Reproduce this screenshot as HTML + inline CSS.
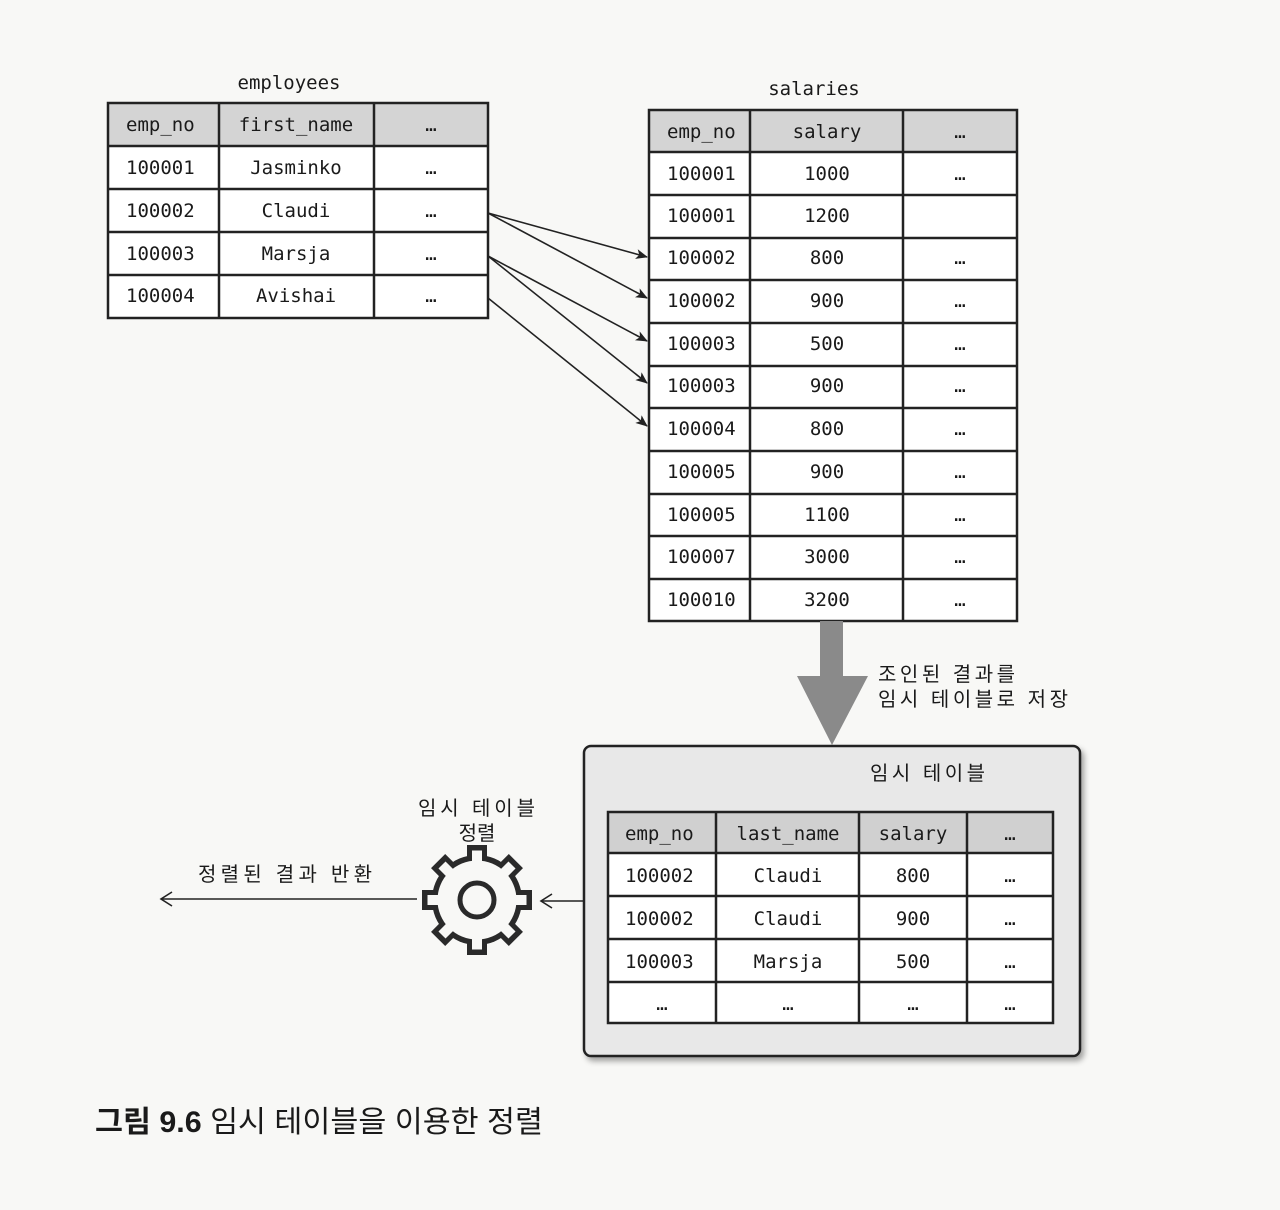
<!DOCTYPE html>
<html><head><meta charset="utf-8"><style>
html,body{margin:0;padding:0;background:#f8f8f6;}
svg{display:block}
.m{font-family:"DejaVu Sans Mono","Liberation Mono","Noto Sans CJK KR",monospace;font-size:19px;fill:#1a1a1a;font-weight:500}
.k{font-family:"Liberation Sans","Noto Sans CJK KR",sans-serif;font-size:20px;fill:#1a1a1a}
</style></head><body>
<svg width="1280" height="1210" viewBox="0 0 1280 1210" xmlns="http://www.w3.org/2000/svg">
<defs>
<marker id="ah" markerWidth="12" markerHeight="10" refX="11" refY="5" orient="auto" markerUnits="userSpaceOnUse">
<path d="M0,0 L12,5 L0,10 L3,5 Z" fill="#222"/></marker>
<filter id="sh" x="-5%" y="-5%" width="110%" height="115%"><feDropShadow dx="3" dy="4" stdDeviation="3" flood-color="#000" flood-opacity="0.35"/></filter>
</defs>

<text class="m" x="289" y="89" text-anchor="middle">employees</text>
<rect x="108" y="103" width="380" height="43" fill="#d4d4d4"/>
<rect x="108" y="146" width="380" height="172" fill="#fff"/>
<g stroke="#222" stroke-width="2.5" fill="none">
<rect x="108" y="103" width="380" height="215"/>
<line x1="108" y1="146" x2="488" y2="146"/><line x1="108" y1="189" x2="488" y2="189"/>
<line x1="108" y1="232" x2="488" y2="232"/><line x1="108" y1="275" x2="488" y2="275"/>
<line x1="219" y1="103" x2="219" y2="318"/><line x1="374" y1="103" x2="374" y2="318"/>
</g>
<g class="m">
<text x="126" y="131">emp_no</text><text x="296" y="131" text-anchor="middle">first_name</text><text x="431" y="131" text-anchor="middle">…</text>
<text x="126" y="174">100001</text><text x="296" y="174" text-anchor="middle">Jasminko</text><text x="431" y="174" text-anchor="middle">…</text>
<text x="126" y="217">100002</text><text x="296" y="217" text-anchor="middle">Claudi</text><text x="431" y="217" text-anchor="middle">…</text>
<text x="126" y="260">100003</text><text x="296" y="260" text-anchor="middle">Marsja</text><text x="431" y="260" text-anchor="middle">…</text>
<text x="126" y="302">100004</text><text x="296" y="302" text-anchor="middle">Avishai</text><text x="431" y="302" text-anchor="middle">…</text>
</g>

<text class="m" x="814" y="95" text-anchor="middle">salaries</text>
<rect x="649" y="110" width="368" height="42" fill="#d4d4d4"/>
<rect x="649" y="152" width="368" height="469" fill="#fff"/>
<g stroke="#222" stroke-width="2.5" fill="none">
<rect x="649" y="110" width="368" height="511"/>
<line x1="649" y1="152" x2="1017" y2="152"/><line x1="649" y1="195" x2="1017" y2="195"/>
<line x1="649" y1="238" x2="1017" y2="238"/><line x1="649" y1="280" x2="1017" y2="280"/>
<line x1="649" y1="323" x2="1017" y2="323"/><line x1="649" y1="366" x2="1017" y2="366"/>
<line x1="649" y1="408" x2="1017" y2="408"/><line x1="649" y1="451" x2="1017" y2="451"/>
<line x1="649" y1="494" x2="1017" y2="494"/><line x1="649" y1="536" x2="1017" y2="536"/>
<line x1="649" y1="579" x2="1017" y2="579"/>
<line x1="750" y1="110" x2="750" y2="621"/><line x1="903" y1="110" x2="903" y2="621"/>
</g>
<g class="m">
<text x="667" y="138">emp_no</text><text x="827" y="138" text-anchor="middle">salary</text><text x="960" y="138" text-anchor="middle">…</text>
<text x="667" y="180">100001</text><text x="827" y="180" text-anchor="middle">1000</text><text x="960" y="180" text-anchor="middle">…</text>
<text x="667" y="222">100001</text><text x="827" y="222" text-anchor="middle">1200</text>
<text x="667" y="264">100002</text><text x="827" y="264" text-anchor="middle">800</text><text x="960" y="264" text-anchor="middle">…</text>
<text x="667" y="307">100002</text><text x="827" y="307" text-anchor="middle">900</text><text x="960" y="307" text-anchor="middle">…</text>
<text x="667" y="350">100003</text><text x="827" y="350" text-anchor="middle">500</text><text x="960" y="350" text-anchor="middle">…</text>
<text x="667" y="392">100003</text><text x="827" y="392" text-anchor="middle">900</text><text x="960" y="392" text-anchor="middle">…</text>
<text x="667" y="435">100004</text><text x="827" y="435" text-anchor="middle">800</text><text x="960" y="435" text-anchor="middle">…</text>
<text x="667" y="478">100005</text><text x="827" y="478" text-anchor="middle">900</text><text x="960" y="478" text-anchor="middle">…</text>
<text x="667" y="521">100005</text><text x="827" y="521" text-anchor="middle">1100</text><text x="960" y="521" text-anchor="middle">…</text>
<text x="667" y="563">100007</text><text x="827" y="563" text-anchor="middle">3000</text><text x="960" y="563" text-anchor="middle">…</text>
<text x="667" y="606">100010</text><text x="827" y="606" text-anchor="middle">3200</text><text x="960" y="606" text-anchor="middle">…</text>
</g>

<g stroke="#222" stroke-width="1.6" marker-end="url(#ah)">
<line x1="488" y1="213" x2="647" y2="257"/>
<line x1="488" y1="213" x2="647" y2="298"/>
<line x1="488" y1="256" x2="647" y2="341"/>
<line x1="488" y1="256" x2="647" y2="383"/>
<line x1="488" y1="298" x2="647" y2="426"/>
</g>

<path d="M820,621 L843,621 L843,676 L868,676 L832,745 L797,676 L820,676 Z" fill="#8a8a8a"/>
<text class="k" x="878" y="681" textLength="137" lengthAdjust="spacing">조인된 결과를</text>
<text class="k" x="878" y="706" textLength="190" lengthAdjust="spacing">임시 테이블로 저장</text>

<rect x="584" y="746" width="496" height="310" rx="7" fill="#e8e8e8" stroke="#222" stroke-width="2.5" filter="url(#sh)"/>
<text class="k" x="870" y="780" textLength="115" lengthAdjust="spacing">임시 테이블</text>
<rect x="608" y="812" width="445" height="41" fill="#d0d0d0"/>
<rect x="608" y="853" width="445" height="170" fill="#fff"/>
<g stroke="#222" stroke-width="2.5" fill="none">
<rect x="608" y="812" width="445" height="211"/>
<line x1="608" y1="853" x2="1053" y2="853"/><line x1="608" y1="896" x2="1053" y2="896"/>
<line x1="608" y1="939" x2="1053" y2="939"/><line x1="608" y1="982" x2="1053" y2="982"/>
<line x1="716" y1="812" x2="716" y2="1023"/><line x1="859" y1="812" x2="859" y2="1023"/>
<line x1="967" y1="812" x2="967" y2="1023"/>
</g>
<g class="m">
<text x="625" y="840">emp_no</text><text x="788" y="840" text-anchor="middle">last_name</text><text x="913" y="840" text-anchor="middle">salary</text><text x="1010" y="840" text-anchor="middle">…</text>
<text x="625" y="882">100002</text><text x="788" y="882" text-anchor="middle">Claudi</text><text x="913" y="882" text-anchor="middle">800</text><text x="1010" y="882" text-anchor="middle">…</text>
<text x="625" y="925">100002</text><text x="788" y="925" text-anchor="middle">Claudi</text><text x="913" y="925" text-anchor="middle">900</text><text x="1010" y="925" text-anchor="middle">…</text>
<text x="625" y="968">100003</text><text x="788" y="968" text-anchor="middle">Marsja</text><text x="913" y="968" text-anchor="middle">500</text><text x="1010" y="968" text-anchor="middle">…</text>
<text x="662" y="1010" text-anchor="middle">…</text><text x="788" y="1010" text-anchor="middle">…</text><text x="913" y="1010" text-anchor="middle">…</text><text x="1010" y="1010" text-anchor="middle">…</text>
</g>

<text class="k" x="418" y="815" textLength="117" lengthAdjust="spacing">임시 테이블</text>
<text class="k" x="477" y="840" text-anchor="middle">정렬</text>
<g transform="translate(477,900)">
<circle r="45" fill="#2a2a2a"/>
<g fill="#2a2a2a">
<rect x="-10" y="-55" width="20" height="17" transform="rotate(0)"/>
<rect x="-10" y="-55" width="20" height="17" transform="rotate(45)"/>
<rect x="-10" y="-55" width="20" height="17" transform="rotate(90)"/>
<rect x="-10" y="-55" width="20" height="17" transform="rotate(135)"/>
<rect x="-10" y="-55" width="20" height="17" transform="rotate(180)"/>
<rect x="-10" y="-55" width="20" height="17" transform="rotate(225)"/>
<rect x="-10" y="-55" width="20" height="17" transform="rotate(270)"/>
<rect x="-10" y="-55" width="20" height="17" transform="rotate(315)"/>
</g>
<circle r="39.5" fill="#f8f8f6"/>
<g fill="#f8f8f6">
<rect x="-5" y="-49.5" width="10" height="13" transform="rotate(0)"/>
<rect x="-5" y="-49.5" width="10" height="13" transform="rotate(45)"/>
<rect x="-5" y="-49.5" width="10" height="13" transform="rotate(90)"/>
<rect x="-5" y="-49.5" width="10" height="13" transform="rotate(135)"/>
<rect x="-5" y="-49.5" width="10" height="13" transform="rotate(180)"/>
<rect x="-5" y="-49.5" width="10" height="13" transform="rotate(225)"/>
<rect x="-5" y="-49.5" width="10" height="13" transform="rotate(270)"/>
<rect x="-5" y="-49.5" width="10" height="13" transform="rotate(315)"/>
</g>
<circle r="17" fill="none" stroke="#2a2a2a" stroke-width="5"/>
</g>

<g stroke="#222" stroke-width="1.6" fill="none">
<line x1="584" y1="901" x2="542" y2="901"/>
<path d="M552,894 L541,901 L552,908"/>
<line x1="417" y1="899" x2="162" y2="899"/>
<path d="M172,892 L161,899 L172,906"/>
</g>
<text class="k" x="198" y="881" textLength="174" lengthAdjust="spacing">정렬된 결과 반환</text>

<text x="95" y="1132" font-family="Liberation Sans,'Noto Sans CJK KR',sans-serif" font-size="30" fill="#1a1a1a" textLength="448" lengthAdjust="spacingAndGlyphs"><tspan font-weight="bold">그림 9.6</tspan> 임시 테이블을 이용한 정렬</text>
</svg>
</body></html>
